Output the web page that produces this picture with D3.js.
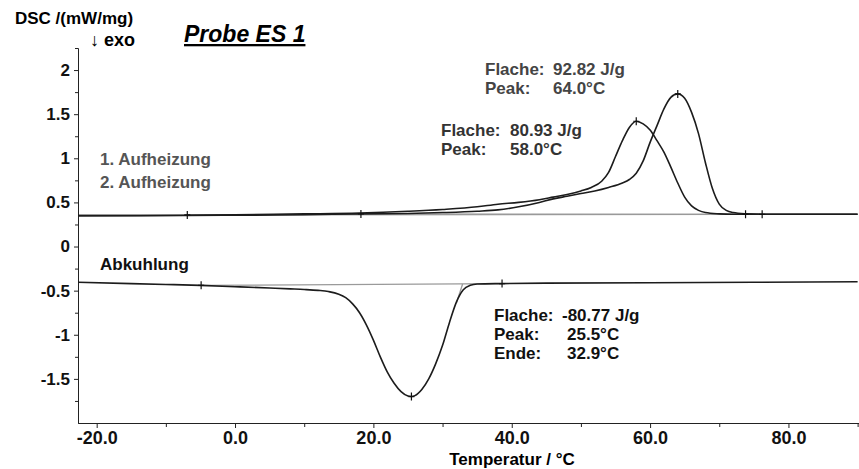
<!DOCTYPE html>
<html>
<head>
<meta charset="utf-8">
<script src="https://cdn.jsdelivr.net/npm/d3@7"></script>
<style>
  body { margin: 0; background: #fff; }
  svg { display: block; }
  .ylab text { font: bold 17px "Liberation Sans", Arial, sans-serif; fill: #111; }
  .xlab text { font: bold 18px "Liberation Sans Narrow", "Arial Narrow", sans-serif; fill: #111; }
  .axis path, .axis line { stroke: #222; stroke-width: 1; }
  .note { font: bold 17px "Liberation Sans", Arial, sans-serif; }
</style>
</head>
<body>
<div id="chart"></div>
<script>
var width = 859, height = 469;

// 1. Aufheizung (peak 58.0 C)
var heat1Temp = [-22.7, -15, -7, 0, 10, 18, 25, 30, 35, 38, 41, 44, 46, 48, 50, 51.5, 53, 54, 55, 56, 57, 58, 59, 60, 61, 62, 63, 64, 65, 66, 67, 68, 70, 72, 74, 80, 90];
var heat1Dsc  = [0.35, 0.352, 0.355, 0.36, 0.37, 0.38, 0.40, 0.42, 0.45, 0.48, 0.50, 0.53, 0.56, 0.59, 0.63, 0.67, 0.74, 0.84, 1.02, 1.2, 1.35, 1.42, 1.39, 1.32, 1.2, 1.07, 0.9, 0.72, 0.56, 0.46, 0.41, 0.385, 0.37, 0.365, 0.365, 0.365, 0.365];

// 2. Aufheizung (peak 64.0 C)
var heat2Temp = [-22.7, -15, -7, 0, 10, 18, 25, 30, 35, 38, 41, 44, 46, 48, 50, 52, 54, 56, 57, 58, 59, 60, 61, 62, 63, 64, 65, 66, 67, 68, 69, 70, 71, 72, 74, 76, 80, 90];
var heat2Dsc  = [0.35, 0.35, 0.352, 0.355, 0.36, 0.37, 0.375, 0.385, 0.40, 0.415, 0.45, 0.50, 0.54, 0.57, 0.60, 0.63, 0.67, 0.72, 0.76, 0.83, 0.97, 1.18, 1.37, 1.56, 1.69, 1.73, 1.68, 1.52, 1.28, 0.95, 0.66, 0.48, 0.41, 0.385, 0.37, 0.365, 0.365, 0.365];

// Abkuhlung (peak 25.5 C)
var coolTemp = [-22.7, -15, -10, -5, 0, 5, 8, 10, 12, 13.5, 15, 16, 17, 18, 19, 20, 21, 22, 23, 24, 25, 25.5, 26, 27, 28, 29, 30, 31, 32, 33, 34, 35, 38.6, 45, 60, 75, 90];
var coolDsc  = [-0.405, -0.42, -0.43, -0.44, -0.455, -0.47, -0.48, -0.487, -0.497, -0.51, -0.54, -0.58, -0.65, -0.75, -0.89, -1.06, -1.25, -1.42, -1.55, -1.645, -1.695, -1.70, -1.69, -1.62, -1.50, -1.33, -1.12, -0.86, -0.63, -0.49, -0.44, -0.425, -0.42, -0.415, -0.41, -0.405, -0.40];

// integration baselines and onset tangent [T, value]
var baseHeat1 = [[-6.9, 0.358], [73.8, 0.365]];
var baseHeat2 = [[18.2, 0.37], [76.2, 0.365]];
var baseCool  = [[-4.9, -0.44], [38.6, -0.42]];
var tangentCool = [[32.0, -0.64], [32.9, -0.425]];

// evaluation markers
var markers = [[-6.9, 0.358], [18.2, 0.37], [73.8, 0.365], [76.2, 0.365], [58.0, 1.42], [64.0, 1.73],
               [-4.9, -0.44], [38.6, -0.42], [25.5, -1.70]];

var yMajor = [-1.5, -1, -0.5, 0, 0.5, 1, 1.5, 2];
var yMinor = [-1.75, -1.25, -0.75, -0.25, 0.25, 0.75, 1.25, 1.75, 2.25];
var xMajor = [-20, 0, 20, 40, 60, 80];
var xMinor = [-10, 10, 30, 50, 70, 90];

var svg = d3.select("#chart").append("svg")
  .attr("width", width)
  .attr("height", height);

var x = d3.scaleLinear().domain([-22.7, 90.2]).range([78, 859]);
var y = d3.scaleLinear().domain([-2.0, 2.25]).range([423, 48]);

// axes
svg.append("g")
  .attr("class", "axis")
  .attr("transform", "translate(78,0)")
  .call(d3.axisLeft(y).tickValues(yMinor).tickSize(3).tickSizeOuter(0).tickFormat(""));
svg.append("g")
  .attr("class", "axis ylab")
  .attr("transform", "translate(78,0)")
  .call(d3.axisLeft(y).tickValues(yMajor).tickSize(4).tickSizeOuter(0).tickPadding(4)
    .tickFormat(function (d) { return String(d); }));

svg.append("g")
  .attr("class", "axis")
  .attr("transform", "translate(0,423)")
  .call(d3.axisBottom(x).tickValues(xMinor).tickSize(4).tickSizeOuter(0).tickFormat(""));
svg.append("g")
  .attr("class", "axis xlab")
  .attr("transform", "translate(0,423)")
  .call(d3.axisBottom(x).tickValues(xMajor).tickSize(5).tickSizeOuter(0).tickPadding(3)
    .tickFormat(function (d) { return d.toFixed(1); }));

// baselines
var straight = d3.line().x(function (d) { return x(d[0]); }).y(function (d) { return y(d[1]); });
[baseHeat1, baseHeat2, baseCool, tangentCool].forEach(function (b) {
  svg.append("path")
    .attr("d", straight(b))
    .attr("fill", "none")
    .attr("stroke", "#9a9a9a")
    .attr("stroke-width", 1.3);
});

// curves
var curve = d3.line()
  .x(function (d) { return x(d[0]); })
  .y(function (d) { return y(d[1]); })
  .curve(d3.curveMonotoneX);

[[heat1Temp, heat1Dsc], [heat2Temp, heat2Dsc], [coolTemp, coolDsc]].forEach(function (s) {
  svg.append("path")
    .datum(d3.zip(s[0], s[1]))
    .attr("d", curve)
    .attr("fill", "none")
    .attr("stroke", "#1c1c1c")
    .attr("stroke-width", 1.6);
});

// markers
svg.selectAll(".mk")
  .data(markers)
  .enter().append("path")
  .attr("class", "mk")
  .attr("d", function (d) {
    var px = x(d[0]), py = y(d[1]);
    return "M" + (px - 3) + "," + py + "H" + (px + 3) + "M" + px + "," + (py - 4) + "V" + (py + 4);
  })
  .attr("stroke", "#111")
  .attr("stroke-width", 1.2);

// titles
svg.append("text")
  .attr("x", 15).attr("y", 24)
  .style("font", "bold 17px 'Liberation Sans', Arial, sans-serif")
  .text("DSC /(mW/mg)");
svg.append("text")
  .attr("x", 90).attr("y", 46)
  .style("font", "bold 18px 'Liberation Sans', Arial, sans-serif")
  .text("\u2193 exo");
svg.append("text")
  .attr("x", 184).attr("y", 42)
  .style("font", "italic bold 23px 'Liberation Sans', Arial, sans-serif")
  .style("text-decoration", "underline")
  .text("Probe ES 1");

svg.append("text")
  .attr("x", 512).attr("y", 465)
  .attr("text-anchor", "middle")
  .style("font", "bold 17px 'Liberation Sans Narrow', 'Arial Narrow', sans-serif")
  .text("Temperatur / \u00b0C");

// annotations
function note(x0, y0, rows, color, valOffset) {
  rows.forEach(function (r, i) {
    var t = svg.append("text").attr("class", "note").attr("y", y0 + i * 19).style("fill", color);
    t.append("tspan").attr("x", x0).text(r[0]);
    t.append("tspan").attr("x", x0 + (r[2] || valOffset)).text(r[1]);
  });
}
note(485, 75, [["Flache:", "92.82 J/g"], ["Peak:", "64.0\u00b0C"]], "#444", 68);
note(441, 136, [["Flache:", "80.93 J/g"], ["Peak:", "58.0\u00b0C"]], "#333", 69);
note(494, 321, [["Flache:", "-80.77 J/g", 68], ["Peak:", "25.5\u00b0C", 73], ["Ende:", "32.9\u00b0C", 73]], "#111", 68);

svg.append("text").attr("class", "note").attr("x", 100).attr("y", 165).style("fill", "#555").text("1. Aufheizung");
svg.append("text").attr("class", "note").attr("x", 100).attr("y", 188).style("fill", "#555").text("2. Aufheizung");
svg.append("text").attr("class", "note").attr("x", 100).attr("y", 270).style("fill", "#111").text("Abkuhlung");
</script>
</body>
</html>
